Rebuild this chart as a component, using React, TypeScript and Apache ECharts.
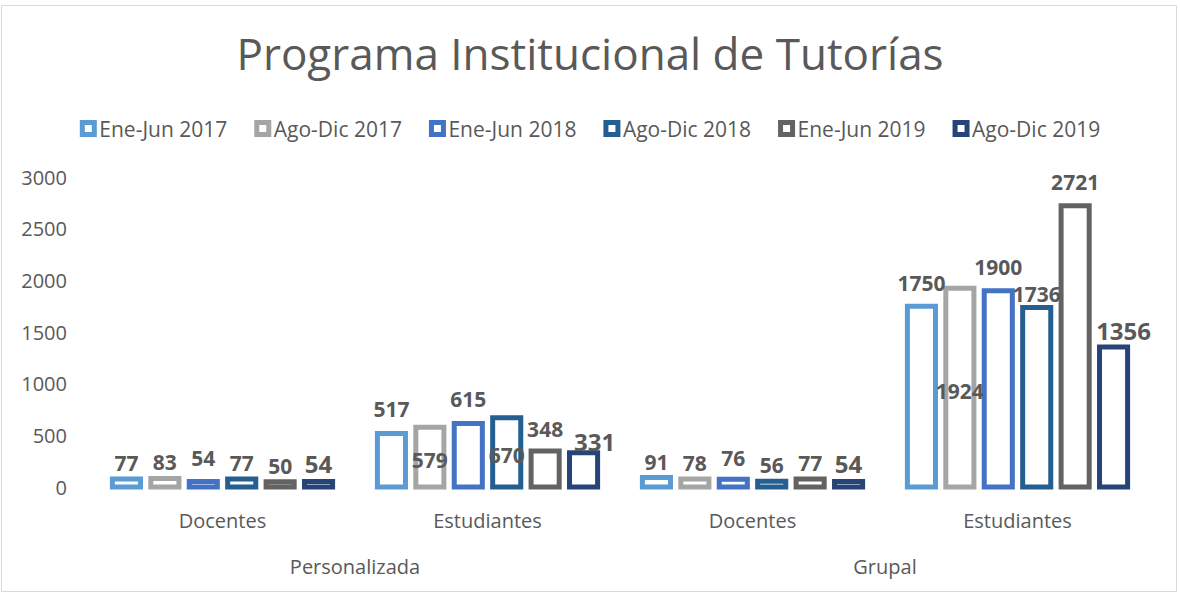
import React, { useEffect, useRef } from "react";
import * as echarts from "echarts";

const title = "Programa Institucional de Tutorías";
const categories = ["Docentes", "Estudiantes", "Docentes", "Estudiantes"];
const groups = ["Personalizada", "Grupal"];
const seriesNames = ["Ene-Jun 2017", "Ago-Dic 2017", "Ene-Jun 2018", "Ago-Dic 2018", "Ene-Jun 2019", "Ago-Dic 2019"];
const eneJun2017 = [77, 517, 91, 1750];
const agoDic2017 = [83, 579, 78, 1924];
const eneJun2018 = [54, 615, 76, 1900];
const agoDic2018 = [77, 670, 56, 1736];
const eneJun2019 = [50, 348, 77, 2721];
const agoDic2019 = [54, 331, 54, 1356];
const seriesValues = [eneJun2017, agoDic2017, eneJun2018, agoDic2018, eneJun2019, agoDic2019];
const colors = ["#5B9BD5", "#A5A5A5", "#4472C4", "#255E91", "#636363", "#264478"];
const labelSizes = [21, 21, 21, 21, 21, 24];
// labels that Excel placed in the bar's centre: [seriesIndex, categoryIndex]
const centreLabels = [[1, 1], [3, 1], [1, 3]];
// hand-moved labels in the original: [seriesIndex, categoryIndex, dx, dy]
const labelNudges = [
  [2, 0, 0, -7],
  [0, 1, 0, -9],
  [2, 1, 0, -8],
  [4, 1, 0, -6],
  [5, 1, 11, 6],
  [2, 2, 0, -5],
  [0, 3, 0, -7],
  [2, 3, 0, -8],
  [3, 3, 0, 2],
  [4, 3, 0, -8],
  [5, 3, 10, 1],
];

const FONT = "'Open Sans', sans-serif";
const GREY = "#595959";

export default function App() {
  const ref = useRef<HTMLDivElement>(null);
  useEffect(() => {
    const chart = echarts.init(ref.current!, null, { renderer: "svg" });
    chart.setOption({
      animation: false,
      backgroundColor: "#fff",
      textStyle: { fontFamily: FONT },
      title: {
        text: title,
        left: "center",
        top: 26,
        textStyle: { fontFamily: FONT, fontSize: 44, fontWeight: "normal", color: GREY },
      },
      legend: {
        top: 113,
        left: "center",
        itemWidth: 12,
        itemHeight: 12,
        itemGap: 27,
        textStyle: { fontFamily: FONT, fontSize: 21, color: GREY, padding: [0, 0, 0, 0] },
        data: seriesNames.map((n, i) => ({
          name: n,
          icon: "rect",
          itemStyle: { color: "#ffffff", borderColor: colors[i], borderWidth: 5 },
        })),
      },
      grid: { left: 90, right: 30, top: 177, height: 310 },
      xAxis: [
        {
          type: "category",
          data: categories,
          position: "bottom",
          axisLine: { show: false },
          axisTick: { show: false },
          axisLabel: { fontFamily: FONT, fontSize: 20, color: GREY, margin: 23 },
        },
        {
          type: "category",
          data: groups,
          position: "bottom",
          offset: 46,
          axisLine: { show: false },
          axisTick: { show: false },
          axisLabel: { fontFamily: FONT, fontSize: 20, color: GREY, margin: 23 },
        },
      ],
      yAxis: {
        type: "value",
        min: 0,
        max: 3000,
        interval: 500,
        axisLine: { show: false },
        axisTick: { show: false },
        splitLine: { show: false },
        axisLabel: {
          fontFamily: FONT,
          fontSize: 20,
          color: GREY,
          margin: 23,
          formatter: (v: number) => String(v),
        },
      },
      graphic: [
        {
          type: "rect",
          shape: { x: 1.5, y: 5.5, width: 1175, height: 586 },
          style: { fill: "none", stroke: "#d9d9d9", lineWidth: 1 },
          silent: true,
        },
      ],
      series: seriesNames.map((name, si) => ({
        name,
        type: "custom",
        xAxisIndex: 0,
        encode: { x: 0, y: 1 },
        itemStyle: { color: colors[si] },
        renderItem: (params: any, api: any) => {
          const ci = api.value(0);
          const v = api.value(1);
          const top = api.coord([ci, v]);
          const base = api.coord([ci, 0]);
          const catW = api.size([1, 0])[0];
          const step = catW * 0.145;
          const w = catW * 0.106;
          const cx = top[0] + (si - 2.5) * step;
          const centre = centreLabels.some(([s, c]) => s === si && c === ci);
          const nudge = labelNudges.find(([s, c]) => s === si && c === ci);
          return {
            type: "rect",
            shape: { x: cx - w / 2, y: top[1], width: w, height: base[1] - top[1] },
            style: { fill: "#ffffff", stroke: colors[si], lineWidth: 5 },
            textContent: {
              style: {
                text: String(v),
                fontFamily: FONT,
                fontSize: labelSizes[si],
                fontWeight: "bold",
                fill: GREY,
              },
            },
            textConfig: centre
              ? { position: "inside", offset: [0, 3] }
              : {
                  position: "top",
                  distance: 3,
                  offset: nudge ? [nudge[2], nudge[3]] : [0, 0],
                },
          };
        },
        data: seriesValues[si].map((v, ci) => [ci, v]),
      })),
    });
    return () => chart.dispose();
  }, []);
  return (
    <div
      ref={ref}
      style={{ position: "absolute", left: 0, top: 0, width: 1180, height: 594 }}
    />
  );
}
